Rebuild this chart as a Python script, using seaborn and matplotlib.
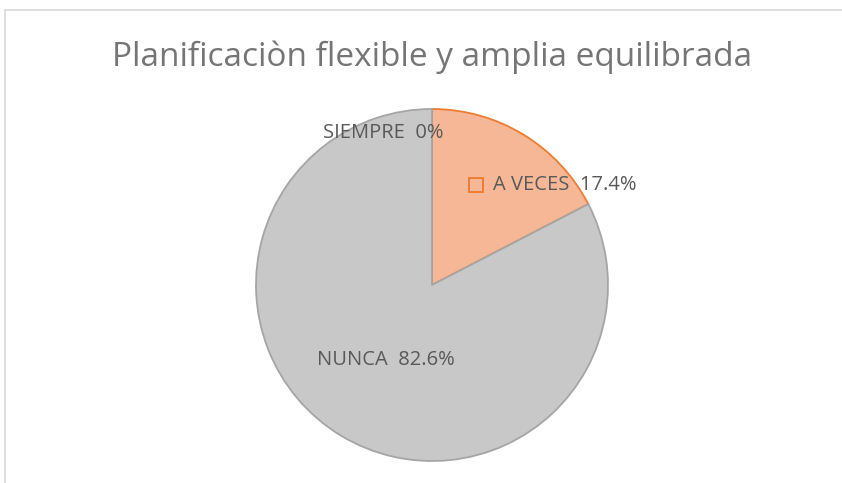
import matplotlib
matplotlib.use('Agg')
from matplotlib import pyplot as plt
from matplotlib.lines import Line2D
import seaborn as sns

categories = ['SIEMPRE', 'A VECES', 'NUNCA']
values = [0.0, 17.4, 82.6]
fill_colors = ['#5B9BD5', '#F5B795', '#C8C8C8']
edge_colors = ['#5B9BD5', '#ED7D31', '#A5A5A5']
title = 'Planificaciòn flexible y amplia equilibrada'

sns.set_theme(style='white')
plt.rcParams['font.family'] = ['Open Sans', 'DejaVu Sans']

W, H = 842, 483
fig = plt.figure(figsize=(W / 100, H / 100), dpi=100)

# chart frame (only left and top edges visible in the crop)
fig.add_artist(Line2D([5 / W, 5 / W], [0, 1 - 10 / H], color='#D9D9D9', lw=1.2))
fig.add_artist(Line2D([5 / W, 1], [1 - 10 / H, 1 - 10 / H], color='#D9D9D9', lw=1.2))

cx, cy, r = 432, 285, 176
ax = fig.add_axes([(cx - r) / W, (H - cy - r) / H, 2 * r / W, 2 * r / H])

wedges, _ = ax.pie(
    values,
    startangle=90,
    counterclock=False,
    colors=fill_colors,
    radius=1,
)
for w, ec in zip(wedges, edge_colors):
    w.set_edgecolor(ec)
    w.set_linewidth(1.3)
# grey slice on top so its radial edges cover the orange ones
wedges[1].set_zorder(2)
wedges[2].set_zorder(3)

ax.set_xlim(-1, 1)
ax.set_ylim(-1, 1)
ax.set_aspect('equal')
ax.axis('off')

txt = '#595959'
fs = 14.5
ax.text(0.065, 0.862, f'{categories[0]}  {values[0]:.0f}%', ha='right', va='center',
        fontsize=fs, color=txt, zorder=10)
ax.plot([0.25], [0.57], marker='s', ms=10, mfc='none', mec='#ED7D31', mew=1.4, zorder=10)
ax.text(0.345, 0.57, f'{categories[1]}  {values[1]:.1f}%', ha='left', va='center',
        fontsize=fs, color=txt, zorder=10)
ax.text(-0.26, -0.425, f'{categories[2]}  {values[2]:.1f}%', ha='center', va='center',
        fontsize=fs, color=txt, zorder=10)

fig.text(cx / W, 1 - 57 / H, title, ha='center', va='center', fontsize=24, color='#757575')

fig.savefig('out.png', dpi=100)
